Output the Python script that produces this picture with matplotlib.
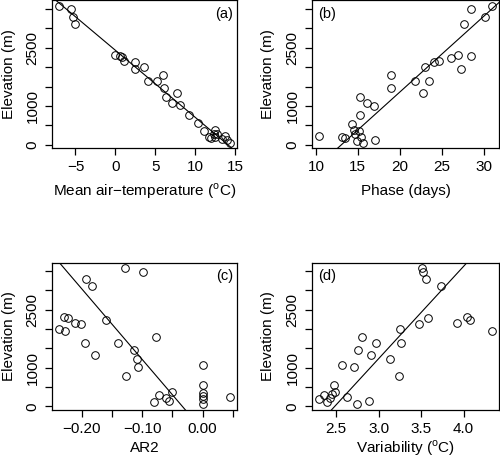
import numpy as np
import matplotlib
matplotlib.use("Agg")
import matplotlib.pyplot as plt

# ------------------------------------------------------------
# datos (elevacion en m)
# ------------------------------------------------------------
temp_a = [-7.08, -5.58, -5.29, -5.0, 0.0, 0.54, 0.88, 1.13, 2.5, 2.46, 3.54,
          4.08, 5.25, 6.0, 6.08, 6.29, 7.67, 7.08, 8.13, 9.17, 10.33, 11.08,
          11.79, 12.0, 12.5, 12.3, 12.7, 12.5, 13.3, 13.75, 13.96, 14.38]
elev_a = [3576, 3490, 3302, 3113, 2315, 2290, 2255, 2161, 2135, 1955, 2007,
          1646, 1655, 1809, 1466, 1235, 1329, 1089, 1020, 772, 557, 360,
          214, 189, 386, 280, 290, 200, 146, 232, 129, 60]

phase_b = [10.36, 13.14, 13.5, 14.35, 14.55, 14.63, 14.9, 15.1, 15.3, 15.27,
           15.63, 15.43, 16.04, 16.88, 17.04, 18.9, 18.9, 21.87, 22.8, 23.04,
           23.48, 24.04, 24.65, 26.14, 26.9, 27.26, 28.43, 27.7, 28.47, 30.12,
           31.0]
elev_b = [240, 206, 180, 549, 386, 274, 94, 360, 1226, 780,
          60, 214, 1080, 1012, 129, 1801, 1458, 1646, 1329, 2007,
          1646, 2127, 2161, 2247, 2315, 1955, 2290, 3113, 3490, 3302,
          3576]

ar2_c = [-0.238, -0.228, -0.230, -0.223, -0.211, -0.2016, -0.1945, -0.193,
         -0.1824, -0.178, -0.1593, -0.1407, -0.128, -0.127, -0.1132, -0.108,
         -0.107, -0.0995, -0.0764, -0.0797, -0.072, -0.0604, -0.055, -0.0505,
         0.0, 0.0, 0.0, 0.0, 0.0, 0.0, 0.0456]
elev_c = [2010, 1959, 2311, 2285, 2156, 2130, 1649, 3299,
          3110, 1323, 2242, 1641, 3574, 782, 1460, 1228,
          1014, 3488, 1804, 103, 292, 215, 129, 378,
          1082, 550, 352, 266, 180, 52, 241]

var_d = [2.298, 2.354, 2.397, 2.425, 2.449, 2.492, 2.476, 2.575, 2.627, 2.71,
         2.749, 2.761, 2.80, 2.916, 2.971, 2.884, 3.133, 3.24, 3.248, 3.264,
         3.473, 3.513, 3.521, 3.557, 3.576, 3.739, 3.92, 4.035, 4.079, 4.336]
elev_d = [198, 284, 103, 223, 309, 378, 550, 1074, 241, 1022,
          52, 1460, 1804, 1323, 1641, 129, 1228, 782, 2002, 1649,
          2130, 3574, 3488, 3299, 2285, 3110, 2156, 2311, 2242, 1959]

paneles = [
    (temp_a, elev_a, "Mean air\u2212temperature ($^{\\mathregular{o}}$C)", "(a)", "right",
     [-5, 0, 5, 10, 15], ["\u22125", "0", "5", "10", "15"]),
    (phase_b, elev_b, "Phase (days)", "(b)", "left",
     [10, 15, 20, 25, 30], ["10", "15", "20", "25", "30"]),
    (ar2_c, elev_c, "AR2", "(c)", "right",
     [-0.20, -0.15, -0.10, -0.05, 0.00, 0.05], ["\u22120.20", "", "\u22120.10", "", "0.00", ""]),
    (var_d, elev_d, "Variability ($^{\\mathregular{o}}$C)", "(d)", "left",
     [2.5, 3.0, 3.5, 4.0], ["2.5", "3.0", "3.5", "4.0"]),
]

# [izq, abajo, ancho, alto] en fraccion de figura
posiciones = [
    [0.104, 0.679, 0.370, 0.320],
    [0.624, 0.679, 0.374, 0.320],
    [0.104, 0.111, 0.370, 0.319],
    [0.624, 0.111, 0.374, 0.319],
]
# posicion vertical de la etiqueta x (linea base, fraccion del eje)
label_y = [-0.322, -0.322, -0.29, -0.29]

plt.rcParams.update({
    "font.family": ["Liberation Sans", "DejaVu Sans"],
    "font.size": 11,
    "axes.linewidth": 0.9,
    "xtick.major.size": 5,
    "ytick.major.size": 5,
    "xtick.major.width": 0.9,
    "ytick.major.width": 0.9,
})

fig = plt.figure(figsize=(5.0, 4.61), dpi=100)

y_ticks = [0, 500, 1000, 1500, 2000, 2500, 3000, 3500]
y_labels = ["0", "", "1000", "", "", "2500", "", ""]

for (x, y, xlabel, letra, lado, xt, xtl), pos, ly in zip(paneles, posiciones, label_y):
    ax = fig.add_axes(pos)
    x = np.array(x)
    y = np.array(y)
    ax.plot(x, y, "o", mfc="none", mec="black", ms=5.5, mew=0.7)
    ax.margins(0.04)
    ax.set_xlim(ax.get_xlim())
    ax.set_ylim(ax.get_ylim())

    # recta de regresion (variable ~ elevacion, invertida)
    b, a = np.polyfit(y, x, 1)
    xs = np.array(ax.get_xlim())
    ax.plot(xs, (xs - a) / b, color="black", lw=0.8)

    ax.set_xticks(xt)
    ax.set_xticklabels(xtl)
    ax.set_yticks(y_ticks)
    ax.set_yticklabels(y_labels, rotation=90, va="center")
    ax.tick_params(axis="x", pad=4)
    ax.tick_params(axis="y", pad=4)

    ax.set_xlabel(xlabel)
    ax.xaxis.label.set_va("baseline")
    ax.xaxis.set_label_coords(0.5, ly)
    ax.set_ylabel("Elevation (m)")
    ax.yaxis.label.set_va("baseline")
    ax.yaxis.set_label_coords(-0.212, 0.5)

    if lado == "right":
        ax.text(0.978, 0.955, letra, transform=ax.transAxes, ha="right", va="top", fontsize=10.5)
    else:
        ax.text(0.035, 0.955, letra, transform=ax.transAxes, ha="left", va="top", fontsize=10.5)

fig.savefig("out.png", dpi=100)
